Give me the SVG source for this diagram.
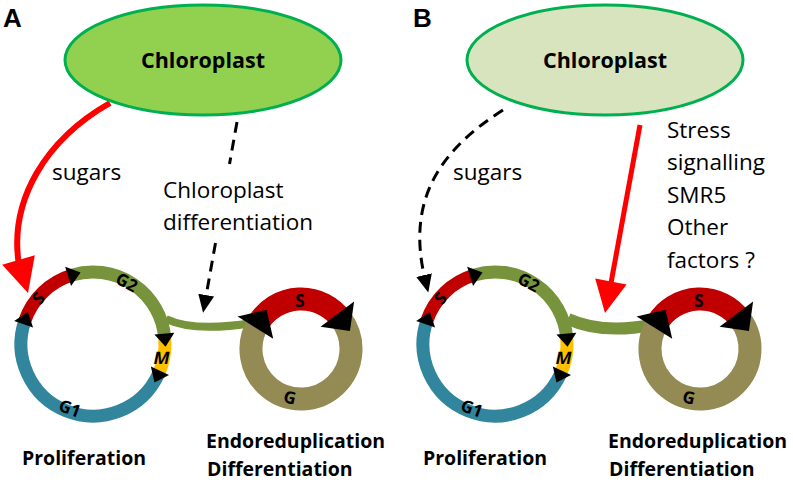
<svg xmlns="http://www.w3.org/2000/svg" xmlns:xlink="http://www.w3.org/1999/xlink" width="793" height="482" viewBox="0 0 793 482">
<style>
.t{font-family:"Open Sans","Liberation Sans",sans-serif;font-size:22.5px;fill:#000}
.b{font-family:"Open Sans","Liberation Sans",sans-serif;font-weight:bold;font-size:19.5px;fill:#000}
.nt{font-family:"Open Sans","Liberation Sans",sans-serif;font-weight:bold;font-size:21.5px;fill:#000;text-anchor:middle}
.panel{font-family:"Liberation Sans",Arial,sans-serif;font-weight:bold;font-size:26px;fill:#000}
.cl{font-family:"Open Sans","Liberation Sans",sans-serif;font-weight:bold;font-size:17px;fill:#000;text-anchor:middle;dominant-baseline:central}
.r1{fill:none;stroke-width:13}
.r2{fill:none;stroke-width:23}
.ell{stroke:#00B050;stroke-width:3}
.dash{fill:none;stroke:#000;stroke-width:3;stroke-dasharray:11,7}
.red{fill:none;stroke:#FF0000}
</style>
<defs>
<polygon id="tri" points="9,0 -4,-10 -4,10" fill="#000"/>
<polygon id="bigtri" points="15,0 -6,-21 -6,21" fill="#000"/>
<marker id="ah" markerWidth="20" markerHeight="18" refX="4" refY="9" orient="auto" markerUnits="userSpaceOnUse">
<path d="M0,1 L18,9 L0,17 z" fill="#000"/>
</marker>
</defs>

<g id="connectors">
<path class="red" stroke-width="6" d="M110,103 C45,140 10,200 18.5,262"/>
<polygon fill="#FF0000" points="34.8,255.3 2.2,264.7 28,293"/>
<path class="dash" d="M237,122 L229.5,164"/>
<path class="dash" d="M215.5,243 L205.5,299" marker-end="url(#ah)"/>
<path fill="none" stroke="#77933C" stroke-width="8" d="M166,319 C185,328 215,329 252,323"/>
<path class="dash" d="M503,110 C440,150 406,200 425,279" marker-end="url(#ah)"/>
<path class="red" stroke-width="5" d="M640,125 L611,283"/>
<polygon fill="#FF0000" points="626.6,284.5 595.2,278.6 605,313"/>
<path fill="none" stroke="#77933C" stroke-width="12" d="M568,319 C590,329 620,331 652,325"/>
</g>

<g id="labelA"><text class="panel" x="3" y="27">A</text></g>
<g id="labelB"><text class="panel" x="413" y="27">B</text></g>

<g id="chloroplastA">
<ellipse class="ell" cx="203" cy="60" rx="138" ry="55" fill="#92D050"/>
<text class="nt" x="203" y="68">Chloroplast</text>
</g>
<g id="chloroplastB">
<ellipse class="ell" cx="605" cy="60" rx="138" ry="55" fill="#D7E4BD"/>
<text class="nt" x="605" y="68">Chloroplast</text>
</g>

<g id="textsA">
<text class="t" x="52" y="180">sugars</text>
<text class="t" x="163" y="198">Chloroplast</text>
<text class="t" x="163" y="230">differentiation</text>
</g>
<g id="textsB">
<text class="t" x="453" y="180">sugars</text>
<text class="t" x="667" y="137.5">Stress</text>
<text class="t" x="667" y="170">signalling</text>
<text class="t" x="667" y="202.5">SMR5</text>
<text class="t" x="667" y="235">Other</text>
<text class="t" x="667" y="267.5">factors ?</text>
</g>

<g id="cycleProlifA" transform="translate(93,344)">
<path class="r1" stroke="#C00000" d="M-68.08,-23.44 A72,72 0 0 1 -21.05,-68.85"/>
<path class="r1" stroke="#77933C" d="M-21.05,-68.85 A72,72 0 0 1 71.73,-6.28"/>
<path class="r1" stroke="#FFC000" d="M71.73,-6.28 A72,72 0 0 1 65.25,30.43"/>
<path class="r1" stroke="#31859C" d="M65.25,30.43 A72,72 0 0 1 -68.08,-23.44"/>
<use xlink:href="#tri" transform="translate(-68.08,-23.44) rotate(289)"/>
<use xlink:href="#tri" transform="translate(-21.05,-68.85) rotate(343)"/>
<use xlink:href="#tri" transform="translate(71.73,-6.28) rotate(85)"/>
<use xlink:href="#tri" transform="translate(65.25,30.43) rotate(115)"/>
<text class="cl" transform="translate(-55,-46) rotate(-50)">S</text>
<text class="cl" transform="translate(34,-62) rotate(28)">G2</text>
<text class="cl" transform="translate(69,14) skewX(-12)">M</text>
<text class="cl" transform="translate(-23,64) rotate(20)">G1</text>
</g>

<g id="cycleEndoA" transform="translate(301,349)">
<path class="r2" stroke="#C00000" d="M-42.4,-26.5 A50,50 0 0 1 39.93,-30.09"/>
<path class="r2" stroke="#948A54" d="M39.93,-30.09 A50,50 0 1 1 -42.4,-26.5"/>
<use xlink:href="#bigtri" transform="translate(-42.4,-26.5) rotate(302)"/>
<use xlink:href="#bigtri" transform="translate(39.93,-30.09) rotate(53)"/>
<text class="cl" transform="translate(-1,-49)">S</text>
<text class="cl" transform="translate(-11,48) rotate(13)">G</text>
</g>

<g id="cycleProlifB" transform="translate(495,344)">
<path class="r1" stroke="#C00000" d="M-68.08,-23.44 A72,72 0 0 1 -21.05,-68.85"/>
<path class="r1" stroke="#77933C" d="M-21.05,-68.85 A72,72 0 0 1 71.73,-6.28"/>
<path class="r1" stroke="#FFC000" d="M71.73,-6.28 A72,72 0 0 1 65.25,30.43"/>
<path class="r1" stroke="#31859C" d="M65.25,30.43 A72,72 0 0 1 -68.08,-23.44"/>
<use xlink:href="#tri" transform="translate(-68.08,-23.44) rotate(289)"/>
<use xlink:href="#tri" transform="translate(-21.05,-68.85) rotate(343)"/>
<use xlink:href="#tri" transform="translate(71.73,-6.28) rotate(85)"/>
<use xlink:href="#tri" transform="translate(65.25,30.43) rotate(115)"/>
<text class="cl" transform="translate(-55,-46) rotate(-50)">S</text>
<text class="cl" transform="translate(34,-62) rotate(28)">G2</text>
<text class="cl" transform="translate(69,14) skewX(-12)">M</text>
<text class="cl" transform="translate(-23,64) rotate(20)">G1</text>
</g>

<g id="cycleEndoB" transform="translate(700,349)">
<path class="r2" stroke="#C00000" d="M-42.4,-26.5 A50,50 0 0 1 39.93,-30.09"/>
<path class="r2" stroke="#948A54" d="M39.93,-30.09 A50,50 0 1 1 -42.4,-26.5"/>
<use xlink:href="#bigtri" transform="translate(-42.4,-26.5) rotate(302)"/>
<use xlink:href="#bigtri" transform="translate(39.93,-30.09) rotate(53)"/>
<text class="cl" transform="translate(-1,-49)">S</text>
<text class="cl" transform="translate(-11,48) rotate(13)">G</text>
</g>

<g id="bottomA">
<text class="b" x="22" y="465">Proliferation</text>
<text class="b" x="206" y="448">Endoreduplication</text>
<text class="b" x="207" y="476">Differentiation</text>
</g>
<g id="bottomB">
<text class="b" x="423" y="465">Proliferation</text>
<text class="b" x="608" y="448">Endoreduplication</text>
<text class="b" x="609" y="476">Differentiation</text>
</g>
</svg>
